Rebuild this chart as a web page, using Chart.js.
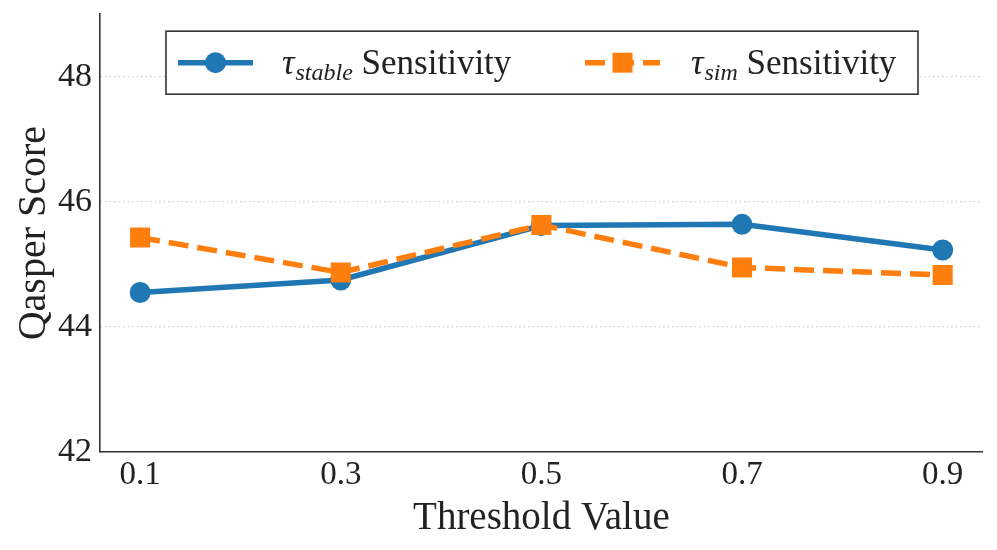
<!DOCTYPE html>
<html>
<head>
<meta charset="utf-8">
<script src="https://cdn.jsdelivr.net/npm/chart.js@4"></script>
<style>
  html, body { margin: 0; padding: 0; background: #fff; }
  #wrap { width: 997px; height: 550px; position: relative; }
</style>
</head>
<body>
<div id="wrap"><canvas id="c"></canvas></div>
<script>
const thresholds = [0.1, 0.3, 0.5, 0.7, 0.9];
const stableScores = [44.55, 44.75, 45.62, 45.64, 45.23];
const simScores = [45.43, 44.87, 45.63, 44.95, 44.83];
const yTicks = [42, 44, 46, 48];
const xTickLabels = ['0.1', '0.3', '0.5', '0.7', '0.9'];

const FONT = "'Liberation Serif', 'DejaVu Serif', serif";
const TEXT = '#222222';
const BLUE = '#1f77b4';
const ORANGE = '#ff7f0e';

const richLegend = {
  id: 'richLegend',
  afterDraw(chart) {
    const ctx = chart.ctx;
    const a = chart.chartArea;
    const bx = a.left + 66, by = a.top + 17, bw = 752, bh = 63;
    const cy = by + bh / 2;
    ctx.save();
    ctx.fillStyle = '#ffffff';
    ctx.fillRect(bx, by, bw, bh);
    ctx.strokeStyle = '#333333';
    ctx.lineWidth = 1.6;
    ctx.strokeRect(bx, by, bw, bh);

    const base = cy + 11;
    function rich(x, sub) {
      ctx.fillStyle = TEXT;
      ctx.textBaseline = 'alphabetic';
      ctx.textAlign = 'left';
      ctx.font = 'italic 35px ' + FONT;
      ctx.fillText('τ', x, base);
      x += ctx.measureText('τ').width + 1;
      ctx.font = 'italic 24px ' + FONT;
      ctx.fillText(sub, x, base + 6);
      x += ctx.measureText(sub).width;
      ctx.font = '35px ' + FONT;
      ctx.fillText(' Sensitivity', x, base);
    }

    // item 1
    let lx = bx + 12;
    ctx.strokeStyle = BLUE; ctx.lineWidth = 5.5; ctx.lineCap = 'butt';
    ctx.beginPath(); ctx.moveTo(lx, cy); ctx.lineTo(lx + 75, cy); ctx.stroke();
    ctx.fillStyle = BLUE;
    ctx.beginPath(); ctx.arc(lx + 37.5, cy, 10.5, 0, Math.PI * 2); ctx.fill();
    rich(lx + 104, 'stable');

    // item 2
    lx = bx + 419;
    ctx.strokeStyle = ORANGE; ctx.lineWidth = 5.5;
    ctx.setLineDash([20, 9]);
    ctx.beginPath(); ctx.moveTo(lx, cy); ctx.lineTo(lx + 75, cy); ctx.stroke();
    ctx.setLineDash([]);
    ctx.fillStyle = ORANGE;
    ctx.fillRect(lx + 37.5 - 10, cy - 10, 20, 20);
    rich(lx + 106, 'sim');
    ctx.restore();
  }
};

new Chart(document.getElementById('c'), {
  type: 'line',
  data: {
    datasets: [
      {
        label: 'τstable Sensitivity',
        data: thresholds.map((t, i) => ({ x: t, y: stableScores[i] })),
        borderColor: BLUE,
        backgroundColor: BLUE,
        borderWidth: 5.5,
        pointStyle: 'circle',
        pointRadius: 10.5,
        pointHoverRadius: 10.5,
        pointBorderWidth: 0,
        tension: 0,
        order: 1
      },
      {
        label: 'τsim Sensitivity',
        data: thresholds.map((t, i) => ({ x: t, y: simScores[i] })),
        borderColor: ORANGE,
        backgroundColor: ORANGE,
        borderWidth: 5.5,
        borderDash: [20, 9],
        pointStyle: 'rect',
        pointRadius: 14.2,
        pointHoverRadius: 14.2,
        pointBorderWidth: 0,
        tension: 0,
        order: 0
      }
    ]
  },
  options: {
    responsive: true,
    maintainAspectRatio: false,
    animation: false,
    layout: { padding: { top: 0, right: 12, left: 0, bottom: 0 } },
    plugins: { legend: { display: false }, tooltip: { enabled: false } },
    scales: {
      x: {
        type: 'linear',
        min: 0.06,
        max: 0.94,
        afterBuildTicks: s => { s.ticks = thresholds.map(v => ({ value: v })); },
        afterFit: s => { s.height = 98; s.paddingLeft = 0; s.paddingRight = 0; },
        ticks: {
          callback: (v, i) => xTickLabels[i],
          font: { family: FONT, size: 33 },
          color: TEXT,
          padding: 4,
          maxRotation: 0,
          autoSkip: false
        },
        grid: { display: false, drawTicks: false },
        border: { display: true, color: '#333333', width: 1.6 },
        title: {
          display: true,
          text: 'Threshold Value',
          font: { family: FONT, size: 39 },
          color: TEXT,
          padding: { top: 0, bottom: 8 }
        }
      },
      y: {
        type: 'linear',
        min: 42,
        max: 49,
        afterBuildTicks: s => { s.ticks = yTicks.map(v => ({ value: v })); },
        afterFit: s => { s.width = 100; s.paddingTop = 14; s.paddingBottom = 0; },
        ticks: {
          font: { family: FONT, size: 34 },
          color: TEXT,
          padding: 8
        },
        grid: {
          display: true,
          drawTicks: false,
          color: '#cfcfcf',
          lineWidth: 1.2
        },
        border: { display: true, color: '#333333', width: 1.6, dash: [1.5, 3] },
        title: {
          display: true,
          text: 'Qasper Score',
          font: { family: FONT, size: 40 },
          color: TEXT,
          padding: { top: 10, bottom: 0 }
        }
      }
    }
  },
  plugins: [richLegend]
});
</script>
</body>
</html>
